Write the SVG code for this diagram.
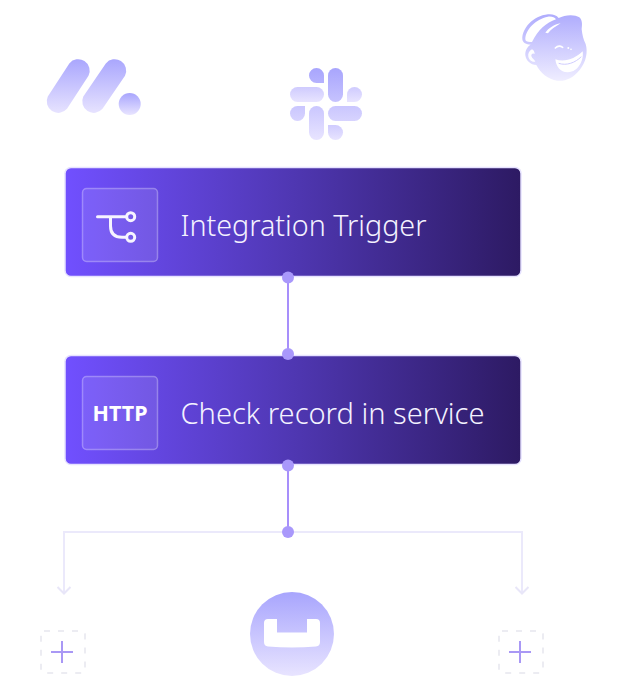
<svg xmlns="http://www.w3.org/2000/svg" width="640" height="680" viewBox="0 0 640 680">
<defs>
<linearGradient id="logo" x1="0" y1="0" x2="0" y2="1"><stop offset="0" stop-color="#a8a5fd"/><stop offset="1" stop-color="#e8e4ff"/></linearGradient>
<linearGradient id="logoBlock" gradientUnits="userSpaceOnUse" x1="0" y1="58" x2="0" y2="114"><stop offset="0" stop-color="#a8a5fd"/><stop offset="1" stop-color="#e8e4ff"/></linearGradient>
<linearGradient id="slack" gradientUnits="userSpaceOnUse" x1="0" y1="68" x2="0" y2="140"><stop offset="0" stop-color="#a8a5fd"/><stop offset="1" stop-color="#e8e4ff"/></linearGradient>
<linearGradient id="slackA" x1="0" y1="0" x2="0" y2="1"><stop offset="0" stop-color="#cfcbfe"/><stop offset="1" stop-color="#e8e4ff"/></linearGradient>
<linearGradient id="chimp" gradientUnits="userSpaceOnUse" x1="0" y1="10" x2="0" y2="215"><stop offset="0" stop-color="#aeabfd"/><stop offset="1" stop-color="#f0eeff"/></linearGradient>
<linearGradient id="bar" x1="0" y1="0" x2="1" y2="0"><stop offset="0" stop-color="#7150ff"/><stop offset="0.5" stop-color="#4f37b2"/><stop offset="1" stop-color="#2d1a63"/></linearGradient>
<marker id="chev" viewBox="0 0 10 16" refX="8.500" refY="8" markerWidth="10" markerHeight="16" markerUnits="userSpaceOnUse" orient="auto"><path d="M1.500,1.500 L8,8 L1.500,14.500" fill="none" stroke="#e8e6f8" stroke-width="2"/></marker>
</defs>
<style>
.card{fill:url(#bar);stroke:#e6e2ff;stroke-width:1.500}
.tile{fill:#fff;fill-opacity:.1;stroke:#fff;stroke-opacity:.3;stroke-width:1.500}
.label{font-family:"Noto Sans","Open Sans",sans-serif;font-weight:300;font-size:30px;fill:#f4f2ff}
.http{font-family:"Noto Sans","Open Sans",sans-serif;font-weight:700;font-size:21px;fill:#fff;text-anchor:middle}
.wire{stroke:#a78ffb;stroke-width:2;fill:none}
.dot{fill:#a998fb}
.branch{stroke:#ebe9fb;stroke-width:2;fill:none}
.drop{fill:none;stroke:#e6e6ee;stroke-width:1.500;stroke-dasharray:6 8}
.plus{stroke:#a998f5;stroke-width:2;fill:none}
.ico{stroke:#f6f4ff;stroke-width:3;fill:none;stroke-linecap:round}
</style>
<g id="logo-monday">
<path fill="url(#logoBlock)" d="M69.300,63.400 A11.500,11.500 0 0 1 88.500,75.800 L67,108.800 A11.500,11.500 0 0 1 47.800,96.500 Z"/>
<path fill="url(#logoBlock)" d="M105.800,63.400 A11.500,11.500 0 0 1 125,75.800 L102.500,108.800 A11.500,11.500 0 0 1 83.300,96.500 Z"/>
<circle cx="129.700" cy="104" r="11" fill="url(#logo)"/>
</g>
<g id="logo-slack">
<path fill="url(#slack)" d="M324,83 H316.500 A7.500,7.500 0 1 1 324,75.500 Z"/>
<rect x="328" y="68" width="15" height="34" rx="7.500" fill="url(#slack)"/>
<rect x="290" y="87" width="34" height="15" rx="7.500" fill="url(#slackA)"/>
<path fill="url(#slackA)" d="M347,102 V94.500 A7.500,7.500 0 1 1 354.500,102 Z"/>
<path fill="url(#slack)" d="M305,106 V113.500 A7.500,7.500 0 1 1 297.500,106 Z"/>
<rect x="309" y="106" width="15" height="34" rx="7.500" fill="url(#slack)"/>
<rect x="328" y="106" width="34" height="15" rx="7.500" fill="url(#slack)"/>
<path fill="url(#slackA)" d="M328,125 H335.500 A7.500,7.500 0 1 1 328,132.500 Z"/>
</g>
<g id="logo-mailchimp" transform="translate(518,10) scale(.3333)">
<path fill="url(#chimp)" d="M13,88 C12,55 45,18 90,13 C105,12 115,16 122,24 C140,14 170,12 184,22 C195,32 192,48 191,58 C193,75 196,88 203,102 C210,125 205,155 185,180 C165,205 140,215 118,212 C90,208 68,190 55,165 C38,165 24,152 22,136 C21,122 28,110 38,104 C25,104 14,98 13,88 Z"/>
<path fill="#fff" d="M22,88 C22,60 52,27 90,20 C102,19 110,22 114,28 C85,38 60,60 42,96 C30,97 22,95 22,88 Z"/>
<path fill="#fff" d="M82,68 C92,54 108,44 128,40 C112,50 98,58 90,70 Z"/>
<path fill="#fff" fill-opacity=".95" d="M42,118 C34,122 29,130 31,140 C33,150 43,157 52,155 C50,148 42,146 40,138 C39,131 46,128 50,132 C50,126 47,120 42,118 Z"/>
<path fill="none" stroke="#fff" stroke-width="5" stroke-linecap="round" d="M112,114 Q122,104 134,112"/>
<circle cx="151" cy="114" r="3" fill="#fff"/>
<circle cx="159" cy="118" r="2.500" fill="#fff"/>
<path fill="#fff" d="M112,148 C140,158 172,146 194,124 C198,150 182,186 150,187 C128,188 114,170 112,148 Z"/>
<path fill="none" stroke="#cfccfe" stroke-width="3" d="M122,160 C146,168 172,158 190,140"/>
</g>
<g id="node-trigger">
<rect class="card" x="65" y="167.500" width="456" height="109" rx="6"/>
<rect class="tile" x="82.500" y="188.500" width="75" height="73" rx="4"/>
<path class="ico" d="M97.500,216.700 H126 M110.500,216.700 V226 Q110.500,237.300 122,237.300 H126"/>
<circle class="ico" cx="130.700" cy="216.700" r="4"/>
<circle class="ico" cx="130.700" cy="237.300" r="4"/>
<text class="label" x="180.500" y="236" textLength="246" lengthAdjust="spacingAndGlyphs">Integration Trigger</text>
</g>
<g id="node-http">
<rect class="card" x="65" y="355.500" width="456" height="109" rx="6"/>
<rect class="tile" x="82.500" y="376.500" width="75" height="73" rx="4"/>
<text class="http" x="120" y="421" textLength="55" lengthAdjust="spacingAndGlyphs">HTTP</text>
<text class="label" x="180.500" y="424" textLength="304" lengthAdjust="spacingAndGlyphs">Check record in service</text>
</g>
<g id="connectors">
<path class="wire" d="M288,277 V354"/>
<path class="wire" d="M288,465 V532"/>
<path class="branch" d="M288,532 H64 V594" marker-end="url(#chev)"/>
<path class="branch" d="M288,532 H522 V594" marker-end="url(#chev)"/>
<circle class="dot" cx="288" cy="277.500" r="6"/>
<circle class="dot" cx="288" cy="354" r="6"/>
<circle class="dot" cx="288" cy="465.500" r="6"/>
<circle class="dot" cx="288" cy="532" r="6"/>
</g>
<g id="node-add-left">
<rect class="drop" x="41" y="631" width="44" height="42" rx="3"/>
<path class="plus" d="M51,652 H73 M62,641 V663"/>
</g>
<g id="logo-couchbase">
<circle cx="292" cy="634" r="42" fill="url(#logo)"/>
<path fill="#fff" d="M268,619 H277 V632.500 H307 V619 H316 Q320,619 320,623 V642 Q320,646 316,646.500 Q292,648.500 268,646.500 Q264,646 264,642 V623 Q264,619 268,619 Z"/>
</g>
<g id="node-add-right">
<rect class="drop" x="499" y="631" width="44" height="42" rx="3"/>
<path class="plus" d="M509,652 H531 M520,641 V663"/>
</g>
</svg>
